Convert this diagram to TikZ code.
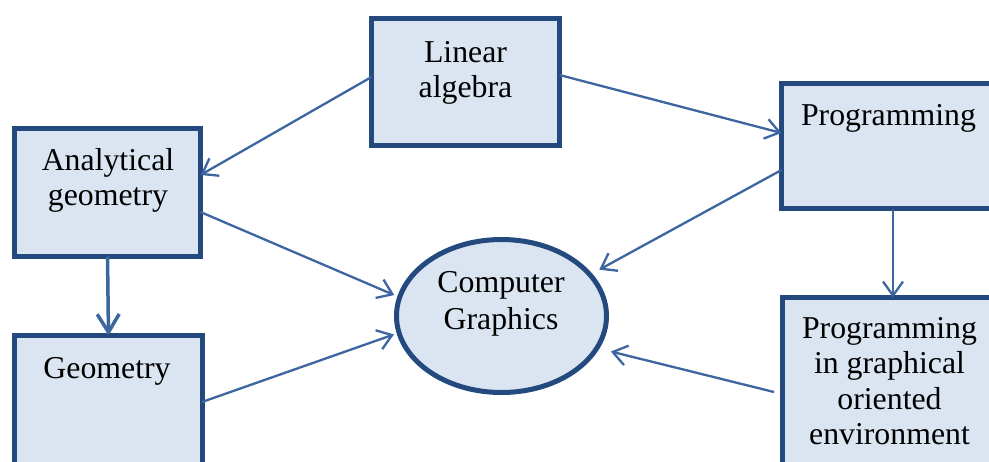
\documentclass[tikz,border=0pt]{standalone}
\usepackage{fontspec}
\setmainfont{Liberation Serif}
\usetikzlibrary{arrows.meta,shapes.geometric}
\definecolor{boxfill}{HTML}{DBE5F1}
\definecolor{boxline}{HTML}{24497F}
\definecolor{arrowline}{HTML}{3D65A0}
\newcommand\txtstack[1]{\begin{tabular}[t]{@{}c@{}}#1\end{tabular}}
\begin{document}
\begin{tikzpicture}[x=1pt,y=-1pt,
  box/.style={draw=boxline,fill=boxfill,line width=5pt,rectangle,inner sep=0pt,outer sep=0pt},
  oval/.style={draw=boxline,fill=boxfill,line width=5pt,ellipse,inner sep=0pt,outer sep=2.5pt},
  lbl/.style={anchor=base,inner sep=0pt,font=\fontsize{31.8}{35.5}\selectfont},
  link/.style={draw=arrowline,line width=2.3pt,-{Straight Barb[length=14pt,width=20pt,line width=2.3pt]}},
  thicklink/.style={draw=arrowline,line width=3.5pt,-{Straight Barb[length=18pt,width=22pt,line width=3.5pt]}}]
\useasboundingbox (0,0) rectangle (989,461);
\clip (0,0) rectangle (989,461);
\fill[white] (0,0) rectangle (989,461);

% boxes
\node[box,minimum width=188pt,minimum height=127pt] (la) at (465.5,82) {};
\node[box,minimum width=186pt,minimum height=128pt] (ag) at (107.5,192.5) {};
\node[box,minimum width=188pt,minimum height=150pt] (geo) at (108.5,410.5) {};
\node[box,minimum width=213pt,minimum height=125pt] (prog) at (888,146) {};
\node[box,minimum width=213pt,minimum height=190pt] (pgoe) at (889,392.5) {};
\node[oval,minimum width=210pt,minimum height=153pt] (cg) at (501.5,316) {};

% labels
\node[lbl] (latxt) at (465.5,62) {\txtstack{Linear\\algebra}};
\node[lbl] (agtxt) at (108,170) {\txtstack{Analytical\\geometry}};
\node[lbl] (geotxt) at (107,378) {Geometry};
\node[lbl] (progtxt) at (888.5,125) {Programming};
\node[lbl] (pgoetxt) at (889.5,338) {\txtstack{Programming\\in graphical\\oriented\\environment}};
\node[lbl] (cgtxt) at (501,292) {\txtstack{Computer\\[1.5pt]Graphics}};

% connectors
\coordinate (pgoeout) at (774,392);
\draw[link] ([yshift=5pt]la.west) -- ([yshift=17.5pt]ag.east);
\draw[link] ([yshift=7pt]la.east) -- ([yshift=13pt]prog.west);
\draw[link] ([yshift=-19.5pt]ag.east) -- ([shift={(-4,1)}]cg.168);
\draw[thicklink] (ag.south) -- (geo.north);
\draw[link] ([xshift=-0.5pt,yshift=8.5pt]geo.east |- 0,410.5) -- ([shift={(-3,0)}]cg.190);
\draw[link] ([yshift=-24pt]prog.west) -- ([shift={(7,-4)}]cg.25);
\draw[link] ([xshift=5pt]prog.south) -- ([xshift=4pt]pgoe.north);
\draw[link] (pgoeout) -- ([shift={(12,2)}]cg.-19);
\end{tikzpicture}
\end{document}
